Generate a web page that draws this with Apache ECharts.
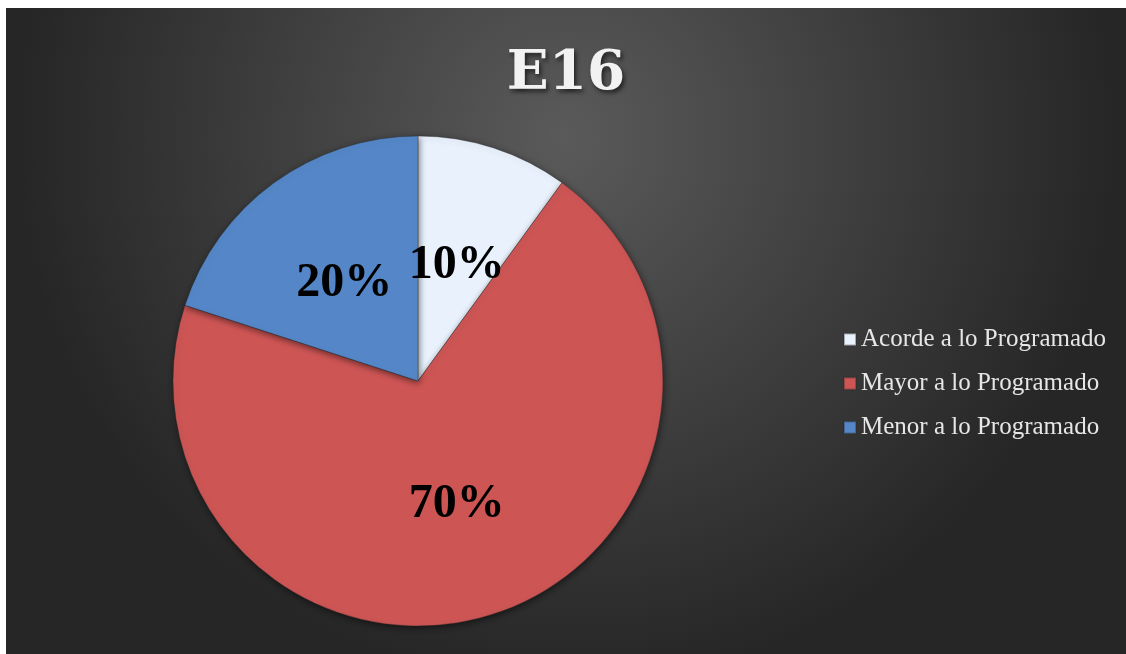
<!DOCTYPE html>
<html>
<head>
<meta charset="utf-8">
<script src="https://cdn.jsdelivr.net/npm/echarts@6/dist/echarts.min.js"></script>
<style>
html,body{margin:0;padding:0;background:#fff;width:1126px;height:654px;overflow:hidden;}
#c{position:absolute;left:6px;top:8px;width:1120px;height:646px;}
</style>
</head>
<body>
<div id="c"></div>
<script>
const title = 'E16';
const categories = ['Acorde a lo Programado', 'Mayor a lo Programado', 'Menor a lo Programado'];
const values = [10, 70, 20];
const colors = ['#E8F1FC', '#CD5655', '#5587C8'];

const chart = echarts.init(document.getElementById('c'));
chart.setOption({
  backgroundColor: {
    type: 'radial', x: 0.5, y: 0.2, r: 0.85,
    colorStops: [{offset: 0, color: '#5a5a5a'}, {offset: 1, color: '#262626'}]
  },
  animation: false,
  title: {
    text: title, left: 'center', top: 34,
    textStyle: {
      fontFamily: 'DejaVu Serif', fontWeight: 'bold', fontSize: 55, color: '#f2f2f2',
      textShadowColor: 'rgba(0,0,0,0.6)', textShadowBlur: 4, textShadowOffsetX: 2, textShadowOffsetY: 3
    }
  },
  legend: {
    orient: 'vertical', left: 832, top: 314,
    itemWidth: 12, itemHeight: 12, itemGap: 19, icon: 'rect',
    textStyle: {fontFamily: 'Liberation Serif', fontSize: 25, color: '#e6e6e6'},
    data: categories
  },
  series: [{
    type: 'pie',
    center: [412, 373], radius: 245,
    startAngle: 90, clockwise: true,
    data: categories.map((n, i) => ({name: n, value: values[i], itemStyle: {color: colors[i]}})),
    itemStyle: {borderColor: 'rgba(40,40,40,0.35)', borderWidth: 1, shadowColor: 'rgba(0,0,0,0.5)', shadowBlur: 6, shadowOffsetX: 1, shadowOffsetY: 2},
    label: {
      show: true, position: 'inside',
      formatter: p => p.value + '%',
      fontFamily: 'Liberation Serif', fontWeight: 'bold', fontSize: 48, color: '#000',
      offset: [0, 4]
    },
    labelLine: {show: false},
    emphasis: {disabled: true}
  }]
});
</script>
</body>
</html>
